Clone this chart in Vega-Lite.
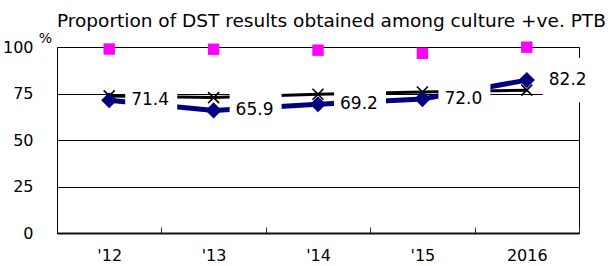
{
  "$schema": "https://vega.github.io/schema/vega-lite/v6.json",
  "width": 522,
  "height": 186,
  "autosize": {"type": "none"},
  "padding": {"left": 57, "top": 47, "right": 29, "bottom": 33},
  "background": "white",
  "title": {
    "text": "Proportion of DST results obtained among culture +ve. PTB",
    "anchor": "start",
    "frame": "group",
    "font": "DejaVu Sans",
    "fontSize": 18.5,
    "fontWeight": "normal",
    "color": "#000",
    "baseline": "alphabetic",
    "offset": 3,
    "dy": 17
  },
  "config": {
    "view": {"stroke": "#000", "strokeWidth": 1},
    "font": "DejaVu Sans"
  },
  "data": {
    "values": [
      {"year": "'12", "series": "DST", "value": 71.4},
      {"year": "'13", "series": "DST", "value": 65.9},
      {"year": "'14", "series": "DST", "value": 69.2},
      {"year": "'15", "series": "DST", "value": 72.0},
      {"year": "2016", "series": "DST", "value": 82.2},
      {"year": "'12", "series": "Ref", "value": 73.7},
      {"year": "'13", "series": "Ref", "value": 72.8},
      {"year": "'14", "series": "Ref", "value": 74.6},
      {"year": "'15", "series": "Ref", "value": 75.8},
      {"year": "2016", "series": "Ref", "value": 76.8},
      {"year": "'12", "series": "Culture", "value": 98.9},
      {"year": "'13", "series": "Culture", "value": 98.8},
      {"year": "'14", "series": "Culture", "value": 98.3},
      {"year": "'15", "series": "Culture", "value": 96.6},
      {"year": "2016", "series": "Culture", "value": 99.9}
    ]
  },
  "encoding": {
    "x": {
      "field": "year",
      "type": "ordinal",
      "sort": null,
      "scale": {"type": "band", "paddingInner": 0, "paddingOuter": 0},
      "axis": {
        "title": null,
        "labelAngle": 0,
        "labelFontSize": 16,
        "labelColor": "#000",
        "labelPadding": 20,
        "tickBand": "extent",
        "tickSize": -6,
        "tickColor": "#333",
        "tickWidth": 1,
        "domainColor": "#111",
        "domainWidth": 2,
        "grid": false
      }
    },
    "y": {
      "field": "value",
      "type": "quantitative",
      "scale": {"domain": [0, 100], "nice": false},
      "axis": {
        "values": [0, 25, 50, 75, 100],
        "grid": true,
        "gridColor": "#000",
        "gridWidth": 1,
        "gridOpacity": 1,
        "domainColor": "#000",
        "domainWidth": 1,
        "ticks": false,
        "tickSize": 0,
        "labelPadding": 24,
        "labelFontSize": 16,
        "labelColor": "#000",
        "title": "%",
        "titleAngle": 0,
        "titleFontSize": 14,
        "titleFontWeight": "normal",
        "titleColor": "#000",
        "titleX": -12,
        "titleY": -5,
        "titleAlign": "center",
        "titleBaseline": "alphabetic"
      }
    }
  },
  "layer": [
    {
      "transform": [{"filter": "datum.series === 'Ref'"}],
      "mark": {"type": "line", "color": "#000", "strokeWidth": 3}
    },
    {
      "transform": [{"filter": "datum.series === 'Ref'"}],
      "mark": {"type": "point", "shape": "M-1,-1L1,1M-1,1L1,-1", "filled": false, "stroke": "#000", "strokeWidth": 1.6, "size": 121, "opacity": 1}
    },
    {
      "transform": [{"filter": "datum.series === 'DST'"}],
      "mark": {"type": "line", "color": "#000080", "strokeWidth": 5}
    },
    {
      "transform": [{"filter": "datum.series === 'DST'"}],
      "mark": {"type": "point", "shape": "diamond", "filled": true, "color": "#000080", "size": 260, "opacity": 1}
    },
    {
      "transform": [{"filter": "datum.series === 'Culture'"}],
      "mark": {"type": "point", "shape": "square", "filled": true, "color": "#FF00FF", "size": 130, "opacity": 1}
    },
    {
      "transform": [{"filter": "datum.series === 'DST'"}],
      "mark": {"type": "point", "shape": "M-1,-0.85H1V0.85H-1Z", "filled": true, "color": "#fff", "size": 2704, "opacity": 1, "xOffset": 42, "clip": false}
    },
    {
      "transform": [{"filter": "datum.series === 'DST'"}],
      "mark": {"type": "text", "align": "left", "baseline": "middle", "dx": 22, "fontSize": 17, "color": "#000"},
      "encoding": {"text": {"field": "value", "type": "quantitative", "format": ".1f"}}
    }
  ]
}
